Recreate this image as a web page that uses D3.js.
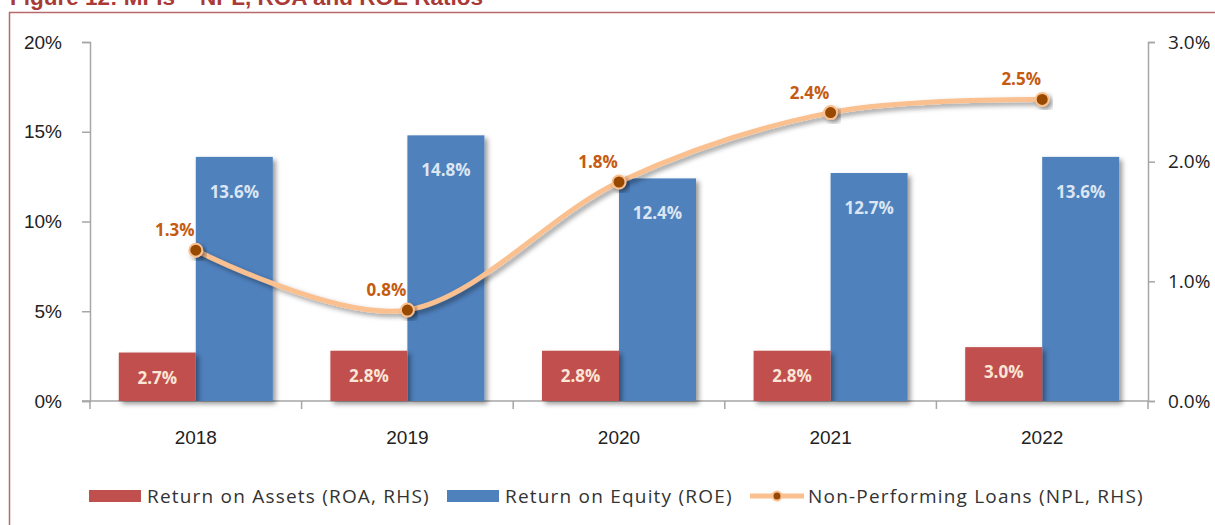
<!DOCTYPE html>
<html>
<head>
<meta charset="utf-8">
<script src="https://cdn.jsdelivr.net/npm/d3@7"></script>
<style>
  body { margin: 0; background: #fff; }
  svg { display: block; }
</style>
</head>
<body>
<script>
// Data
const years = ['2018', '2019', '2020', '2021', '2022'];
const roa = [2.7, 2.8, 2.8, 2.8, 3.0];
const roe = [13.6, 14.8, 12.4, 12.7, 13.6];
const npl = [1.26, 0.76, 1.83, 2.41, 2.52];
const leftTicks = [0, 5, 10, 15, 20];
const rightTicks = [0, 1, 2, 3];
const legendLabels = ['Return on Assets (ROA, RHS)', 'Return on Equity (ROE)', 'Non-Performing Loans (NPL, RHS)'];

const width = 1215;
const height = 525;

const svg = d3.select('body')
  .append('svg')
  .attr('width', width)
  .attr('height', height);

// Shadows for the bars and the line.
const defs = svg.append('defs');
defs.append('filter')
  .attr('id', 'shadow')
  .attr('x', '-20%').attr('y', '-20%')
  .attr('width', '150%').attr('height', '150%')
  .append('feDropShadow')
  .attr('dx', 3).attr('dy', 3)
  .attr('stdDeviation', 2.5)
  .attr('flood-color', '#000')
  .attr('flood-opacity', 0.4);

// Title, cut off at the top as in the source, and the frame.
svg.append('text')
  .attr('x', 10)
  .attr('y', 5)
  .style('font-family', 'Liberation Sans, Arial, sans-serif')
  .style('font-weight', 'bold')
  .style('font-size', '22.5px')
  .style('fill', '#a93a36')
  .text('Figure 12: MFIs – NPL, ROA and ROE Ratios');

svg.append('path')
  .attr('d', `M9.5,${height + 5}V12.5H${width + 5}`)
  .style('fill', 'none')
  .style('stroke', '#b86a6a')
  .style('stroke-width', 1.5);

// Scales
const x = d3.scaleBand()
  .domain(years)
  .range([90, 1148]);

const xs = d3.scaleBand()
  .domain(['roa', 'roe'])
  .range([0, x.step()])
  .paddingOuter(0.374);

const yLeft = d3.scaleLinear()
  .domain([0, 20])
  .range([401, 42]);

const yRight = d3.scaleLinear()
  .domain([0, 3])
  .range([401, 42]);

const axisColor = '#a6a6a6';

// Left axis
const leftAxis = svg.append('g')
  .attr('transform', 'translate(90,0)')
  .call(d3.axisLeft(yLeft)
    .tickValues(leftTicks)
    .tickSize(8)
    .tickPadding(20)
    .tickFormat(d => d + '%'));

// Right axis
const rightAxis = svg.append('g')
  .attr('transform', 'translate(1148,0)')
  .call(d3.axisRight(yRight)
    .tickValues(rightTicks)
    .tickSize(7)
    .tickPadding(13)
    .tickFormat(d => d3.format('.1f')(d) + '%'));

[leftAxis, rightAxis].forEach(g => {
  g.select('.domain').style('stroke', axisColor).style('stroke-width', 1.5);
  g.selectAll('.tick line').style('stroke', axisColor).style('stroke-width', 1.5);
});

leftAxis.selectAll('.tick text')
  .style('font-family', 'Liberation Sans, Arial, sans-serif')
  .style('font-size', '19px')
  .style('fill', '#222');

rightAxis.selectAll('.tick text')
  .style('font-family', 'Open Sans, sans-serif')
  .style('font-size', '19px')
  .style('fill', '#222');

// Category axis along the zero line.
const bottom = svg.append('g');
bottom.append('line')
  .attr('x1', 82).attr('x2', 1148)
  .attr('y1', yLeft(0)).attr('y2', yLeft(0))
  .style('stroke', axisColor)
  .style('stroke-width', 1.5);

bottom.selectAll('.cat-tick')
  .data(d3.range(years.length + 1))
  .join('line')
  .attr('class', 'cat-tick')
  .attr('x1', i => 90 + i * x.step())
  .attr('x2', i => 90 + i * x.step())
  .attr('y1', yLeft(0))
  .attr('y2', yLeft(0) + 8)
  .style('stroke', axisColor)
  .style('stroke-width', 1.5);

bottom.selectAll('.cat-label')
  .data(years)
  .join('text')
  .attr('class', 'cat-label')
  .attr('x', d => x(d) + x.bandwidth() / 2)
  .attr('y', 444)
  .attr('text-anchor', 'middle')
  .style('font-family', 'Liberation Sans, Arial, sans-serif')
  .style('font-size', '19px')
  .style('fill', '#222')
  .text(d => d);

// Bars
const rows = years.map((year, i) => ({ year, roa: roa[i], roe: roe[i], npl: npl[i] }));

const barLayer = svg.append('g');

barLayer.selectAll('.roe')
  .data(rows)
  .join('rect')
  .attr('class', 'roe')
  .attr('x', d => x(d.year) + xs('roe'))
  .attr('y', d => yLeft(d.roe))
  .attr('width', xs.bandwidth())
  .attr('height', d => yLeft(0) - yLeft(d.roe))
  .style('fill', '#4f81bd')
  .attr('filter', 'url(#shadow)');

barLayer.selectAll('.roa')
  .data(rows)
  .join('rect')
  .attr('class', 'roa')
  .attr('x', d => x(d.year) + xs('roa'))
  .attr('y', d => yLeft(d.roa))
  .attr('width', xs.bandwidth())
  .attr('height', d => yLeft(0) - yLeft(d.roa))
  .style('fill', '#c0504d')
  .attr('filter', 'url(#shadow)');

const valueFont = 'Open Sans, sans-serif';

barLayer.selectAll('.roe-label')
  .data(rows)
  .join('text')
  .attr('class', 'roe-label')
  .attr('x', d => x(d.year) + xs('roe') + xs.bandwidth() / 2)
  .attr('y', d => yLeft(d.roe) + 41)
  .attr('text-anchor', 'middle')
  .style('font-family', valueFont)
  .style('font-weight', 'bold')
  .style('font-size', '17px')
  .style('fill', '#dce6f2')
  .text(d => d3.format('.1f')(d.roe) + '%');

barLayer.selectAll('.roa-label')
  .data(rows)
  .join('text')
  .attr('class', 'roa-label')
  .attr('x', d => x(d.year) + xs('roa') + xs.bandwidth() / 2)
  .attr('y', d => yLeft(d.roa) + 31)
  .attr('text-anchor', 'middle')
  .style('font-family', valueFont)
  .style('font-weight', 'bold')
  .style('font-size', '17px')
  .style('fill', '#fbe5d6')
  .text(d => d3.format('.1f')(d.roa) + '%');

// NPL line on the right axis
const line = d3.line()
  .x(d => x(d.year) + x.bandwidth() / 2)
  .y(d => yRight(d.npl))
  .curve(d3.curveCatmullRom.alpha(0));

const lineLayer = svg.append('g');

lineLayer.append('path')
  .datum(rows)
  .attr('d', line)
  .style('fill', 'none')
  .style('stroke', '#fac090')
  .style('stroke-width', 5)
  .style('stroke-linecap', 'round')
  .attr('filter', 'url(#shadow)');

lineLayer.selectAll('circle')
  .data(rows)
  .join('circle')
  .attr('cx', d => x(d.year) + x.bandwidth() / 2)
  .attr('cy', d => yRight(d.npl))
  .attr('r', 6.5)
  .style('fill', '#974806')
  .style('stroke', '#fac090')
  .style('stroke-width', 2)
  .attr('filter', 'url(#shadow)');

lineLayer.selectAll('.npl-label')
  .data(rows)
  .join('text')
  .attr('class', 'npl-label')
  .attr('x', d => x(d.year) + x.bandwidth() / 2 - 21)
  .attr('y', d => yRight(d.npl) - 14)
  .attr('text-anchor', 'middle')
  .style('font-family', valueFont)
  .style('font-weight', 'bold')
  .style('font-size', '17px')
  .style('fill', '#c55a11')
  .text(d => d3.format('.1f')(d.npl) + '%');

// Legend
const legendY = 496;
const legend = svg.append('g');

const legendItems = [
  { label: legendLabels[0], x: 89, type: 'bar', color: '#c0504d' },
  { label: legendLabels[1], x: 447, type: 'bar', color: '#4f81bd' },
  { label: legendLabels[2], x: 750, type: 'line', color: '#fac090' },
];

legendItems.forEach(item => {
  const g = legend.append('g');
  if (item.type === 'bar') {
    g.append('rect')
      .attr('x', item.x)
      .attr('y', legendY - 6)
      .attr('width', 52)
      .attr('height', 12)
      .style('fill', item.color);
  } else {
    g.append('line')
      .attr('x1', item.x).attr('x2', item.x + 54)
      .attr('y1', legendY).attr('y2', legendY)
      .style('stroke', item.color)
      .style('stroke-width', 5);
    g.append('circle')
      .attr('cx', item.x + 27)
      .attr('cy', legendY)
      .attr('r', 4.5)
      .style('fill', '#974806')
      .style('stroke', item.color)
      .style('stroke-width', 2);
  }
  g.append('text')
    .attr('x', item.x + 58)
    .attr('y', legendY)
    .attr('dy', '0.35em')
    .style('font-family', 'Open Sans, sans-serif')
    .style('font-size', '19px')
    .style('letter-spacing', '1.2px')
    .style('fill', '#333')
    .text(item.label);
});
</script>
</body>
</html>
